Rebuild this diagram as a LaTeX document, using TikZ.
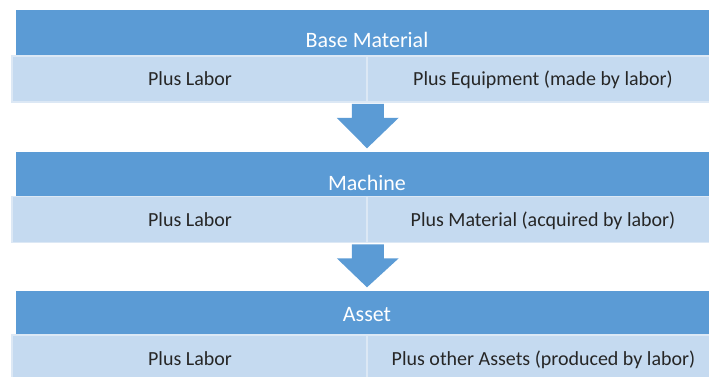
\documentclass[tikz,border=0pt]{standalone}
\usepackage{fontspec}
\setmainfont{Carlito}
\usetikzlibrary{calc}
\definecolor{hdrblue}{HTML}{5B9BD5}
\definecolor{cellblue}{HTML}{C5DAF0}
\definecolor{cellline}{HTML}{DCE8F5}
\definecolor{celltext}{HTML}{262626}
\tikzset{
  hdr/.style={rectangle, fill=hdrblue, inner sep=0pt, minimum width=702pt, minimum height=46pt},
  cell/.style={rectangle, fill=cellblue, draw=cellline, line width=1.5pt, inner sep=0pt, minimum width=355pt, minimum height=46pt},
  htxt/.style={anchor=base, inner sep=0pt, text=white, font=\fontsize{22}{26}\selectfont},
  ctxt/.style={anchor=base, inner sep=0pt, text=celltext, font=\fontsize{20}{24}\selectfont},
  blockarrow/.style={fill=hdrblue}
}
\begin{document}
\begin{tikzpicture}[x=1pt,y=-1pt]
\useasboundingbox (0,0) rectangle (709,376);
\clip (0,0) rectangle (709,376);
% row 1
\node[hdr] (h1) at (367,33) {};
\node[cell] (c1l) at (189.5,79) {};
\node[cell] (c1r) at (544.5,79) {};
\node[htxt] (t1) at (367,47.7) {Base Material};
\node[ctxt] (t1l) at (190,85) {Plus Labor};
\node[ctxt] (t1r) at (543,85) {Plus Equipment (made by labor)};
% row 2
\node[hdr] (h2) at (367,174.5) {};
\node[cell] (c2l) at (189.5,219.5) {};
\node[cell] (c2r) at (544.5,219.5) {};
\node[htxt] (t2) at (367,190) {Machine};
\node[ctxt] (t2l) at (190,226.7) {Plus Labor};
\node[ctxt] (t2r) at (543,226.7) {Plus Material (acquired by labor)};
% row 3
\node[hdr] (h3) at (367,313.5) {};
\node[cell] (c3l) at (189.5,358) {};
\node[cell] (c3r) at (544.5,358) {};
\node[htxt] (t3) at (367,321.7) {Asset};
\node[ctxt] (t3l) at (190,365) {Plus Labor};
\node[ctxt] (t3r) at (543.5,365) {Plus other Assets (produced by labor)};
% block arrows
\fill[blockarrow] ($(c1l.south east)+(-16,1)$) -- ++(32,0) -- ++(0,14) -- ++(15,0)
  -- ($(h2.north)+(0,-3)$) -- ($(c1l.south east)+(-31,15)$) -- ++(15,0) -- cycle;
\fill[blockarrow] ($(c2l.south east)+(-16,1)$) -- ++(32,0) -- ++(0,14) -- ++(15,0)
  -- ($(h3.north)+(0,-3)$) -- ($(c2l.south east)+(-31,15)$) -- ++(15,0) -- cycle;
\end{tikzpicture}
\end{document}
